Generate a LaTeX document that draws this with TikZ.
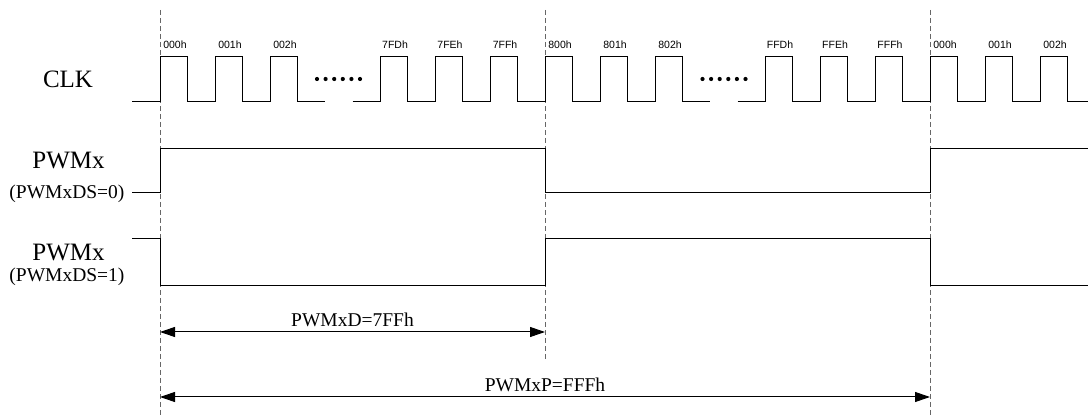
\documentclass[tikz,border=0pt]{standalone}
\usepackage{fontspec}
\setmainfont{Liberation Serif}
\newfontfamily\arialfont{Liberation Sans}
\usetikzlibrary{arrows.meta}
\begin{document}
\begin{tikzpicture}[x=1pt,y=-1pt,
  sig/.style={line width=1pt,line join=miter},
  guide/.style={black!60,line width=0.9pt,dash pattern=on 5pt off 3pt},
  dim/.style={line width=1pt,{Triangle[length=15pt,width=10pt]}-{Triangle[length=15pt,width=10pt]}},
  cnt/.style={font=\arialfont\fontsize{10.5}{12}\selectfont,inner sep=0pt},
  siglabel/.style={font=\fontsize{25}{28}\selectfont,inner sep=0pt},
  sublabel/.style={font=\fontsize{19.5}{22}\selectfont,inner sep=0pt},
  dimlabel/.style={font=\fontsize{19.5}{22}\selectfont,inner sep=0pt,yshift=12pt}]
\useasboundingbox (0,0) rectangle (1090,419);
% guide lines
\coordinate (g1t) at (160,10); \coordinate (g1b) at (160,417);
\coordinate (g2t) at (545,10); \coordinate (g2b) at (545,360);
\coordinate (g3t) at (930,10); \coordinate (g3b) at (930,417);
\draw[guide] (g1t) -- (g1b);
\draw[guide] (g2t) -- (g2b);
\draw[guide] (g3t) -- (g3b);
% signal names
\node[siglabel] (clk) at (68,79) {CLK};
\node[siglabel] (pwm0) at (68.5,161) {PWMx};
\node[sublabel] (pwm0s) at (67,194) {(PWMxDS=0)};
\node[siglabel] (pwm1) at (68.5,253) {PWMx};
\node[sublabel] (pwm1s) at (67,277) {(PWMxDS=1)};
% clock
\draw[sig] (132,102) -- (160,102);
\draw[sig] (352.5,102) -- (380,102);
\draw[sig] (737.5,102) -- (765,102);
\foreach \x in {160,215,270,380,435,490,545,600,655,765,820,875,930,985}
  \draw[sig] (\x,102) -- (\x,57) -- (\x+27.5,57) -- (\x+27.5,102) -- (\x+55,102);
\draw[sig] (1040,102) -- (1040,57) -- (1067.5,57) -- (1067.5,102) -- (1088,102);
\foreach \x/\t in {160/000h,215/001h,270/002h,380/7FDh,435/7FEh,490/7FFh,
                   545/800h,600/801h,655/802h,765/FFDh,820/FFEh,875/FFFh,
                   930/000h,985/001h,1040/002h}
  \node[cnt] at (\x+15,45) {\t};
\foreach \i in {0,...,5} {
  \fill (317+\i*8.6,79) circle (2.1);
  \fill (702.5+\i*8.6,79) circle (2.1);
}
% PWM outputs
\draw[sig] (132,193) -- (160,193) -- (160,149) -- (545,149) -- (545,193)
  -- (930,193) -- (930,149) -- (1088,149);
\draw[sig] (132,239) -- (160,239) -- (160,286) -- (545,286) -- (545,239)
  -- (930,239) -- (930,286) -- (1088,286);
% dimensions
\coordinate (d1a) at (160,332); \coordinate (d1b) at (545,332);
\coordinate (d2a) at (160,397); \coordinate (d2b) at (930,397);
\draw[dim] (d1a) -- node[dimlabel] {PWMxD=7FFh} (d1b);
\draw[dim] (d2a) -- node[dimlabel] {PWMxP=FFFh} (d2b);
\end{tikzpicture}
\end{document}
